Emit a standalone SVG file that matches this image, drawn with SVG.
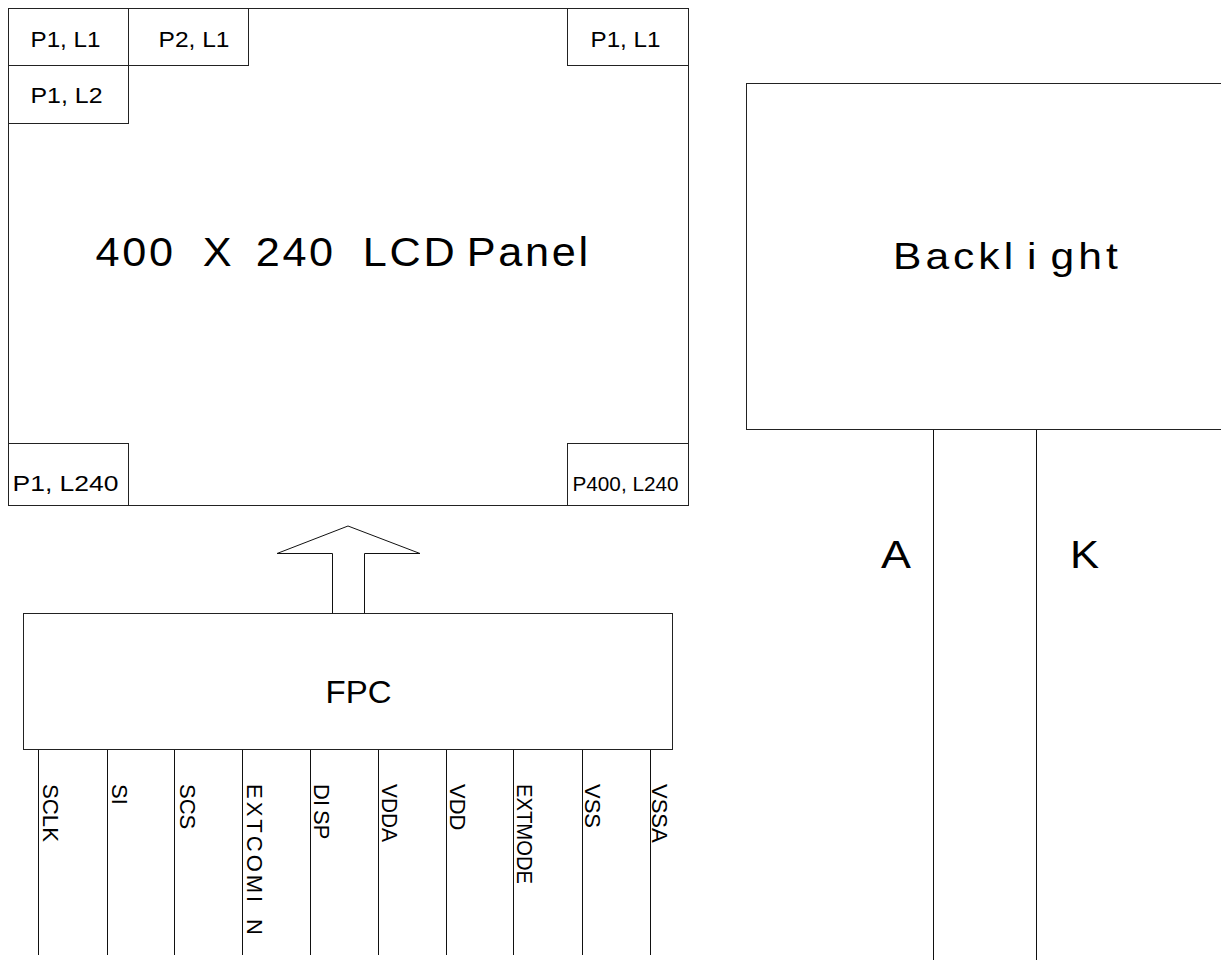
<svg xmlns="http://www.w3.org/2000/svg" width="1221" height="960" viewBox="0 0 1221 960">
<style>
.box{fill:#fff;stroke:#222;stroke-width:1}
.ln{stroke:#111;stroke-width:1;fill:none}
text{font-family:"Liberation Sans",Arial,sans-serif;fill:#000}
.s{font-size:22px}
.xs{font-size:19.5px}
.pin{font-size:22px}
</style>
<rect width="1221" height="960" fill="#fff"/>
<g id="lcd">
<rect class="box" x="8.5" y="8.5" width="680" height="497"/>
<text style="font-size:40px;letter-spacing:2.5px" transform="translate(95.5,266) scale(1.08,1)"><tspan x="0">400</tspan> <tspan x="99.2">X</tspan> <tspan x="148.3">240</tspan> <tspan x="247.5">LCD</tspan> <tspan x="343.8">Panel</tspan></text>
</g>
<g id="p1l1">
<rect class="box" x="8.5" y="8.5" width="120" height="57"/>
<text class="s" x="30.5" y="47" textLength="70" lengthAdjust="spacingAndGlyphs">P1, L1</text>
</g>
<g id="p2l1">
<rect class="box" x="128.5" y="8.5" width="120" height="57"/>
<text class="s" x="158.5" y="47" textLength="71" lengthAdjust="spacingAndGlyphs">P2, L1</text>
</g>
<g id="p1l2">
<rect class="box" x="8.5" y="65.5" width="120" height="58"/>
<text class="s" x="30.5" y="103" textLength="72" lengthAdjust="spacingAndGlyphs">P1, L2</text>
</g>
<g id="p1l1r">
<rect class="box" x="567.5" y="8.5" width="121" height="57"/>
<text class="s" x="590.5" y="47" textLength="70" lengthAdjust="spacingAndGlyphs">P1, L1</text>
</g>
<g id="p1l240">
<rect class="box" x="8.5" y="443.5" width="120" height="62"/>
<text class="s" x="12.5" y="491" textLength="106" lengthAdjust="spacingAndGlyphs">P1, L240</text>
</g>
<g id="p400l240">
<rect class="box" x="567.5" y="443.5" width="121" height="62"/>
<text class="xs" x="572.5" y="491" textLength="106" lengthAdjust="spacingAndGlyphs">P400, L240</text>
</g>
<g id="arrow">
<path class="ln" d="M332.5,613 V553.5 H277 L348,526 L420,553.5 H364.5 V613"/>
</g>
<g id="fpc">
<rect class="box" x="23.5" y="613.5" width="649" height="136"/>
<text style="font-size:32px" x="325.5" y="703" textLength="66" lengthAdjust="spacingAndGlyphs">FPC</text>
</g>
<g id="backlight">
<rect class="box" x="746.5" y="83.5" width="490" height="346"/>
<text style="font-size:37px;letter-spacing:3.5px" transform="translate(893,269) scale(1.15,1)"><tspan x="0">Backl</tspan><tspan x="116.6">i</tspan><tspan x="137">ght</tspan></text>
</g>
<g id="connectors">
<line class="ln" x1="38.5" y1="750" x2="38.5" y2="955"/>
<line class="ln" x1="107.5" y1="750" x2="107.5" y2="955"/>
<line class="ln" x1="174.5" y1="750" x2="174.5" y2="955"/>
<line class="ln" x1="242.5" y1="750" x2="242.5" y2="955"/>
<line class="ln" x1="310.5" y1="750" x2="310.5" y2="955"/>
<line class="ln" x1="378.5" y1="750" x2="378.5" y2="955"/>
<line class="ln" x1="446.5" y1="750" x2="446.5" y2="955"/>
<line class="ln" x1="513.5" y1="750" x2="513.5" y2="955"/>
<line class="ln" x1="582.5" y1="750" x2="582.5" y2="955"/>
<line class="ln" x1="650.5" y1="750" x2="650.5" y2="955"/>
<line class="ln" x1="933.5" y1="430" x2="933.5" y2="960"/>
<line class="ln" x1="1036.5" y1="430" x2="1036.5" y2="960"/>
</g>
<g id="pin-labels">
<text class="pin" transform="translate(43,784) rotate(90)" textLength="58" lengthAdjust="spacingAndGlyphs">SCLK</text>
<text class="pin" transform="translate(111.5,784) rotate(90)">SI</text>
<text class="pin" transform="translate(179.5,784) rotate(90)">SCS</text>
<text class="pin" transform="translate(246.5,784) rotate(90)" style="letter-spacing:3px">EXTCOMI<tspan x="135">N</tspan></text>
<text class="pin" transform="translate(313.5,784) rotate(90)">DI<tspan dx="4">SP</tspan></text>
<text class="pin" transform="translate(381.5,784) rotate(90)" textLength="58" lengthAdjust="spacingAndGlyphs">VDDA</text>
<text class="pin" transform="translate(450,784) rotate(90)">VDD</text>
<text class="pin" transform="translate(516.5,784) rotate(90)" textLength="100" lengthAdjust="spacingAndGlyphs">EXTMODE</text>
<text class="pin" transform="translate(585,784) rotate(90)">VSS</text>
<text class="pin" transform="translate(651.5,784) rotate(90)">VSSA</text>
</g>
<g id="bl-labels">
<text style="font-size:39px" transform="translate(881,568) scale(1.15,1)">A</text>
<text style="font-size:39px" transform="translate(1070,568) scale(1.12,1)">K</text>
</g>
</svg>
